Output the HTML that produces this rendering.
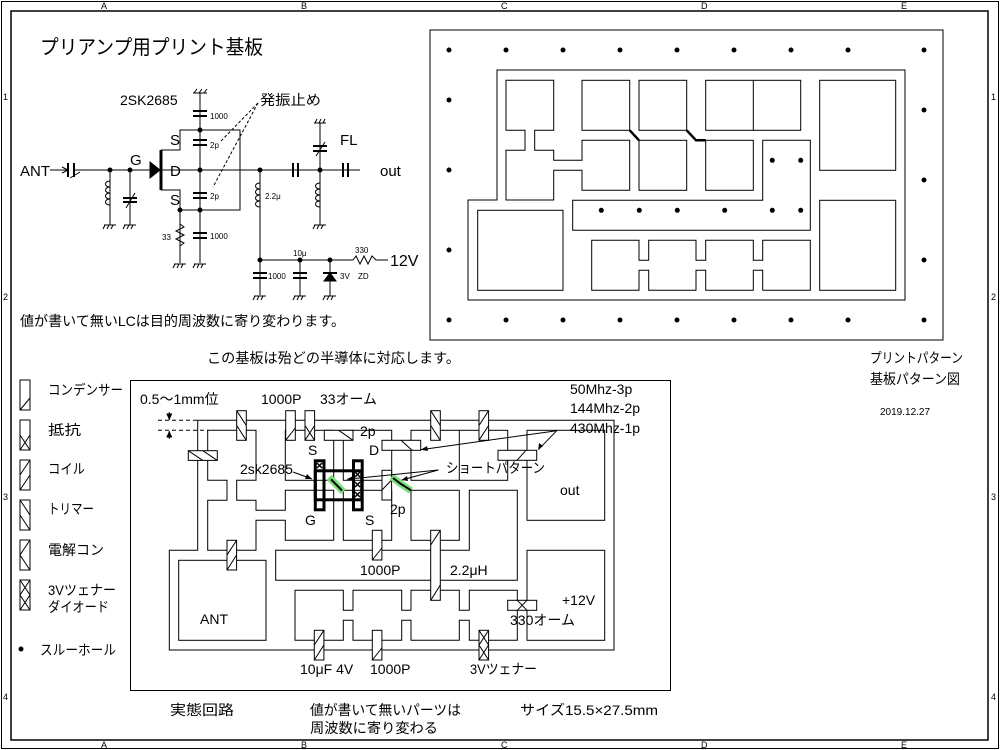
<!DOCTYPE html>
<html><head><meta charset="utf-8"><style>
html,body{margin:0;padding:0;background:#fff;}
svg{display:block;}
text{font-family:"Liberation Sans","Noto Sans CJK JP",sans-serif;fill:#000;}
</style></head><body>
<svg width="1000" height="750" viewBox="0 0 1000 750" xmlns="http://www.w3.org/2000/svg">
<g fill="none" stroke="#000" stroke-width="1">
<rect x="1.5" y="1.5" width="997" height="747"/>
<rect x="11" y="11" width="977" height="729" stroke-width="1.5"/>
</g>
<g font-size="9">
<text x="101" y="9">A</text><text x="301" y="9">B</text><text x="501" y="9">C</text><text x="701" y="9">D</text><text x="901" y="9">E</text>
<text x="101" y="748">A</text><text x="301" y="748">B</text><text x="501" y="748">C</text><text x="701" y="748">D</text><text x="901" y="748">E</text>
<text x="3" y="100">1</text><text x="3" y="300">2</text><text x="3" y="500">3</text><text x="3" y="700">4</text>
<text x="991" y="100">1</text><text x="991" y="300">2</text><text x="991" y="500">3</text><text x="991" y="700">4</text>
</g>

<text x="40" y="54" font-size="20" textLength="223" lengthAdjust="spacingAndGlyphs">プリアンプ用プリント基板</text>

<!-- Schematic -->
<g fill="none" stroke="#000" stroke-width="1">
<line x1="50" y1="170" x2="68" y2="170"/>
<polyline points="62,167 68,170 62,173"/>
<line x1="68" y1="163" x2="68" y2="177" stroke-width="2"/>
<line x1="74" y1="163" x2="74" y2="177" stroke-width="2"/>
<line x1="74" y1="170" x2="150" y2="170"/>
<line x1="70" y1="178" x2="80" y2="172"/>
<polygon points="150,162 160,170 150,178" fill="#000"/>
<line x1="161" y1="150" x2="161" y2="190" stroke-width="3"/>
<line x1="161" y1="170" x2="360" y2="170"/>
<polyline points="161,150 180,150 180,130 240,130 240,210 180,210 180,190 161,190"/>
<line x1="200" y1="93" x2="200" y2="263"/>
<line x1="193" y1="93" x2="207" y2="93"/>
<path d="M194,93 l3,-4 M199,93 l3,-4 M204,93 l3,-4"/>
<g stroke-width="2"><line x1="193" y1="111" x2="207" y2="111"/><line x1="193" y1="116" x2="207" y2="116"/>
<line x1="193" y1="140" x2="207" y2="140"/><line x1="193" y1="145" x2="207" y2="145"/>
<line x1="193" y1="193" x2="207" y2="193"/><line x1="193" y1="198" x2="207" y2="198"/>
<line x1="193" y1="233" x2="207" y2="233"/><line x1="193" y1="238" x2="207" y2="238"/></g>
<line x1="180" y1="210" x2="180" y2="263"/>
<polyline points="180,224 184,227 176,231 184,235 176,239 184,243 180,246" fill="none"/>
<line x1="174" y1="264" x2="186" y2="264"/><path d="M175,264 l-2,4 M179,264 l-2,4 M183,264 l-2,4"/>
<line x1="194" y1="264" x2="206" y2="264"/><path d="M195,264 l-2,4 M199,264 l-2,4 M203,264 l-2,4"/>
<line x1="110" y1="170" x2="110" y2="225"/>
<path d="M110,181 c-6,0 -6,6 0,6 c-6,0 -6,6 0,6 c-6,0 -6,6 0,6 c-6,0 -6,6 0,6"/>
<line x1="104" y1="225" x2="116" y2="225"/><path d="M105,225 l-2,4 M109,225 l-2,4 M113,225 l-2,4"/>
<line x1="130" y1="170" x2="130" y2="225"/>
<g stroke-width="2"><line x1="123" y1="198" x2="137" y2="198"/><line x1="123" y1="202" x2="137" y2="202"/></g>
<line x1="126" y1="208" x2="135" y2="193"/>
<line x1="124" y1="225" x2="136" y2="225"/><path d="M125,225 l-2,4 M129,225 l-2,4 M133,225 l-2,4"/>
<line x1="260" y1="170" x2="260" y2="295"/>
<path d="M260,183 c-6,0 -6,6 0,6 c-6,0 -6,6 0,6 c-6,0 -6,6 0,6 c-6,0 -6,6 0,6"/>
<g stroke-width="2"><line x1="253" y1="273" x2="267" y2="273"/><line x1="253" y1="278" x2="267" y2="278"/></g>
<line x1="254" y1="296" x2="266" y2="296"/><path d="M255,296 l-2,4 M259,296 l-2,4 M263,296 l-2,4"/>
<line x1="260" y1="260" x2="353" y2="260"/>
<polyline points="353,260 356,256 360,264 364,256 368,264 372,256 376,260 388,260"/>
<line x1="300" y1="260" x2="300" y2="296"/>
<g stroke-width="2"><line x1="293" y1="273" x2="307" y2="273"/><line x1="293" y1="278" x2="307" y2="278"/></g>
<line x1="294" y1="296" x2="306" y2="296"/><path d="M295,296 l-2,4 M299,296 l-2,4 M303,296 l-2,4"/>
<line x1="330" y1="260" x2="330" y2="296"/>
<polygon points="324,281 336,281 330,273" fill="#000"/><line x1="323" y1="273" x2="337" y2="273" stroke-width="2"/>
<line x1="324" y1="296" x2="336" y2="296"/><path d="M325,296 l-2,4 M329,296 l-2,4 M333,296 l-2,4"/>
<line x1="293" y1="163" x2="293" y2="177" stroke-width="2"/>
<line x1="298" y1="163" x2="298" y2="177" stroke-width="2"/>
<line x1="343" y1="163" x2="343" y2="177" stroke-width="2"/>
<line x1="348" y1="163" x2="348" y2="177" stroke-width="2"/>
<line x1="320" y1="123" x2="320" y2="225"/>
<line x1="314" y1="123" x2="326" y2="123"/><path d="M315,123 l2,-4 M319,123 l2,-4 M323,123 l2,-4"/>
<g stroke-width="2"><line x1="313" y1="146" x2="327" y2="146"/><line x1="313" y1="151" x2="327" y2="151"/></g>
<line x1="316" y1="156" x2="325" y2="142"/>
<path d="M320,183 c-6,0 -6,6 0,6 c-6,0 -6,6 0,6 c-6,0 -6,6 0,6 c-6,0 -6,6 0,6"/>
<line x1="314" y1="225" x2="326" y2="225"/><path d="M315,225 l-2,4 M319,225 l-2,4 M323,225 l-2,4"/>
<line x1="258" y1="103" x2="220" y2="142" stroke-dasharray="3,2"/>
<line x1="258" y1="103" x2="213" y2="187" stroke-dasharray="3,2"/>
</g>
<g fill="#000">
<circle cx="110" cy="170" r="2.5"/><circle cx="130" cy="170" r="2.5"/><circle cx="200" cy="130" r="2.5"/><circle cx="200" cy="170" r="2.5"/>
<circle cx="200" cy="210" r="2.5"/><circle cx="180" cy="210" r="2.5"/><circle cx="260" cy="170" r="2.5"/><circle cx="320" cy="170" r="2.5"/>
<circle cx="260" cy="260" r="2.5"/><circle cx="300" cy="260" r="2.5"/><circle cx="330" cy="260" r="2.5"/>
</g>
<g font-size="15">
<text x="20" y="176">ANT</text><text x="130" y="165">G</text><text x="170" y="176">D</text>
<text x="170" y="145">S</text><text x="170" y="205">S</text><text x="380" y="176">out</text>
<text x="340" y="145">FL</text><text x="120" y="105" font-size="14">2SK2685</text>
<text x="260" y="105" font-size="14" textLength="61" lengthAdjust="spacingAndGlyphs">発振止め</text><text x="390" y="266" font-size="16">12V</text>
</g>
<g font-size="8">
<text x="210" y="119">1000</text><text x="210" y="148">2p</text><text x="210" y="199">2p</text><text x="210" y="239">1000</text>
<text x="162" y="240">33</text><text x="265" y="199">2.2μ</text><text x="268" y="279">1000</text><text x="293" y="256">10μ</text>
<text x="340" y="279">3V</text><text x="358" y="279">ZD</text><text x="355" y="253">330</text>
</g>
<text x="20" y="326" font-size="14" textLength="325" lengthAdjust="spacingAndGlyphs">値が書いて無いLCは目的周波数に寄り変わります。</text>
<text x="207" y="363" font-size="14" textLength="253" lengthAdjust="spacingAndGlyphs">この基板は殆どの半導体に対応します。</text>

<!-- Right pattern -->
<g fill="none" stroke="#000" stroke-width="1">
<rect x="430" y="30" width="513" height="310"/>
<polygon points="497,70 905,70 905,300 468,300 468,200 497,200"/>
<polygon points="506,80.3 553.7,80.3 553.7,130.3 534.7,130.3 534.7,150.3 553.7,150.3 553.7,160.3 582,160.3 582,140.3 629.7,140.3 629.7,190.3 582,190.3 582,170.3 553.7,170.3 553.7,200 506,200 506,150.3 525,150.3 525,130.3 506,130.3"/>
<rect x="582" y="80.3" width="47.7" height="50"/>
<rect x="639" y="80.3" width="47.7" height="50"/>
<rect x="705.7" y="80.3" width="95" height="50"/><line x1="753.3" y1="80.3" x2="753.3" y2="130.3"/>
<rect x="819.7" y="80.3" width="76" height="90"/>
<rect x="639" y="140.3" width="47.7" height="50"/>
<rect x="705.7" y="140.3" width="47.6" height="50"/>
<polygon points="762.7,140.3 810.3,140.3 810.3,230.3 572.7,230.3 572.7,200.3 762.7,200.3"/>
<rect x="477.7" y="210.3" width="85.3" height="80"/>
<rect x="819.7" y="200.3" width="76" height="90"/>
<polygon points="591.7,240.3 639,240.3 639,260.3 648.7,260.3 648.7,240.3 696,240.3 696,260.3 705.7,260.3 705.7,240.3 753.3,240.3 753.3,260.3 762.7,260.3 762.7,240.3 810.3,240.3 810.3,290.3 762.7,290.3 762.7,270.3 753.3,270.3 753.3,290.3 705.7,290.3 705.7,270.3 696,270.3 696,290.3 648.7,290.3 648.7,270.3 639,270.3 639,290.3 591.7,290.3"/>
<polyline points="629.7,130.3 639,140.3" stroke-width="2.5"/>
<polyline points="686.7,130.3 696,140.3 705.7,140.3" stroke-width="2.5"/>
</g>
<g fill="#000">
<circle cx="449" cy="50" r="2.5"/><circle cx="506" cy="50" r="2.5"/><circle cx="563" cy="50" r="2.5"/><circle cx="620" cy="50" r="2.5"/><circle cx="677" cy="50" r="2.5"/><circle cx="734" cy="50" r="2.5"/><circle cx="791" cy="50" r="2.5"/><circle cx="848" cy="50" r="2.5"/><circle cx="924" cy="50" r="2.5"/>
<circle cx="449" cy="320" r="2.5"/><circle cx="506" cy="320" r="2.5"/><circle cx="563" cy="320" r="2.5"/><circle cx="620" cy="320" r="2.5"/><circle cx="677" cy="320" r="2.5"/><circle cx="734" cy="320" r="2.5"/><circle cx="791" cy="320" r="2.5"/><circle cx="848" cy="320" r="2.5"/><circle cx="924" cy="320" r="2.5"/>
<circle cx="449" cy="100" r="2.5"/><circle cx="449" cy="170" r="2.5"/><circle cx="449" cy="250" r="2.5"/>
<circle cx="924" cy="110" r="2.5"/><circle cx="924" cy="180" r="2.5"/><circle cx="924" cy="260" r="2.5"/>
<circle cx="772.3" cy="160.3" r="2.5"/><circle cx="800.7" cy="160.3" r="2.5"/>
<circle cx="601.3" cy="210.3" r="2.5"/><circle cx="639.3" cy="210.3" r="2.5"/><circle cx="677.3" cy="210.3" r="2.5"/><circle cx="724.7" cy="210.3" r="2.5"/><circle cx="772.3" cy="210.3" r="2.5"/><circle cx="800.7" cy="210.3" r="2.5"/>
</g>
<text x="870" y="363" font-size="14" textLength="93" lengthAdjust="spacingAndGlyphs">プリントパターン</text>
<text x="870" y="384" font-size="14" textLength="90" lengthAdjust="spacingAndGlyphs">基板パターン図</text>
<text x="880" y="415" font-size="10">2019.12.27</text>

<!-- Legend -->
<g fill="none" stroke="#000" stroke-width="1">
<rect x="20" y="380" width="10" height="30"/><line x1="20" y1="410" x2="30" y2="398"/>
<rect x="20" y="420" width="10" height="30"/><path d="M20,435 L30,450 M30,435 L20,450"/>
<rect x="20" y="460" width="10" height="30"/><path d="M20,475 L30,460 M20,490 L30,475"/>
<rect x="20" y="500" width="10" height="30"/><path d="M20,500 L30,515 M20,515 L30,530"/>
<rect x="20" y="540" width="10" height="30"/><path d="M30,540 L20,555 L30,570"/>
<rect x="20" y="580" width="10" height="30"/><path d="M20,580 L30,595 M30,580 L20,595 M20,595 L30,610 M30,595 L20,610"/>
</g>
<g font-size="14">
<text x="48" y="395" textLength="75" lengthAdjust="spacingAndGlyphs">コンデンサー</text>
<text x="48" y="435" textLength="33" lengthAdjust="spacingAndGlyphs">抵抗</text>
<text x="48" y="474" textLength="37" lengthAdjust="spacingAndGlyphs">コイル</text>
<text x="48" y="514" textLength="46" lengthAdjust="spacingAndGlyphs">トリマー</text>
<text x="48" y="555" textLength="56" lengthAdjust="spacingAndGlyphs">電解コン</text>
<text x="48" y="595" textLength="68" lengthAdjust="spacingAndGlyphs">3Vツェナー</text>
<text x="48" y="612" textLength="61" lengthAdjust="spacingAndGlyphs">ダイオード</text>
<text x="40" y="655" textLength="76" lengthAdjust="spacingAndGlyphs">スルーホール</text>
</g>
<circle cx="21" cy="649" r="2.5" fill="#000"/>

<!-- Bottom board -->
<g fill="none" stroke="#000" stroke-width="1">
<rect x="130.5" y="380.5" width="540" height="310"/>
<polygon points="197.7,420.3 614,420.3 614,650 169.3,650 169.3,550.3 197.7,550.3"/>
<polygon points="207.7,430.3 256,430.3 256,480.3 236.7,480.3 236.7,500.3 256,500.3 256,510.3 285.3,510.3 285.3,490.3 333.7,490.3 333.7,540.3 285.3,540.3 285.3,520.3 256,520.3 256,550.3 207.7,550.3 207.7,500.3 227,500.3 227,480.3 207.7,480.3"/>
<rect x="285.3" y="430.3" width="48.4" height="50"/>
<rect x="343.3" y="430.3" width="48.4" height="50"/>
<rect x="343.3" y="490.3" width="48.4" height="50"/>
<rect x="411" y="430.3" width="96.7" height="50"/><line x1="459.3" y1="430.3" x2="459.3" y2="480.3"/>
<rect x="527" y="430.3" width="77.7" height="90"/>
<rect x="411" y="490.3" width="48.3" height="50"/>
<polygon points="469.3,490.3 517.3,490.3 517.3,580.3 275.7,580.3 275.7,550.3 469.3,550.3"/>
<rect x="178.7" y="560.3" width="87.3" height="80"/>
<rect x="527" y="550.3" width="77.7" height="90"/>
<polygon points="295,590.3 343.3,590.3 343.3,610.3 353,610.3 353,590.3 401.7,590.3 401.7,610.3 411,610.3 411,590.3 459.3,590.3 459.3,610.3 469.3,610.3 469.3,590.3 517.3,590.3 517.3,640.3 469.3,640.3 469.3,620.3 459.3,620.3 459.3,640.3 411,640.3 411,620.3 401.7,620.3 401.7,640.3 353,640.3 353,620.3 343.3,620.3 343.3,640.3 295,640.3"/>
<line x1="158" y1="420.3" x2="197.7" y2="420.3" stroke-dasharray="4,3"/>
<line x1="158" y1="430.3" x2="207.7" y2="430.3" stroke-dasharray="4,3"/>
<line x1="169.3" y1="412" x2="169.3" y2="420"/><polygon points="167,414 171.6,414 169.3,419" fill="#000"/>
<line x1="169.3" y1="431" x2="169.3" y2="439"/><polygon points="167,437 171.6,437 169.3,432" fill="#000"/>
<g fill="#fff">
<rect x="236.7" y="410.7" width="9.6" height="29.6"/>
<rect x="188.3" y="450.7" width="29" height="9.7"/>
<rect x="285.7" y="410.7" width="9.6" height="29.6"/>
<rect x="305" y="410.7" width="9.6" height="29.6"/>
<rect x="324.3" y="430.3" width="28.7" height="10"/>
<rect x="382" y="440.3" width="38.7" height="10"/>
<rect x="430.7" y="410.7" width="9.6" height="29.6"/>
<rect x="479" y="410.7" width="9.6" height="29.6"/>
<rect x="498" y="450.3" width="38.7" height="10"/>
<rect x="382" y="470.3" width="9.6" height="29.7"/>
<rect x="227" y="540.3" width="9.6" height="29.7"/>
<rect x="372.3" y="530.3" width="9.6" height="29.7"/>
<rect x="430.7" y="530.3" width="9.6" height="70"/>
<rect x="507.7" y="600.3" width="29" height="10"/>
<rect x="314.3" y="630.3" width="9.6" height="29.7"/>
<rect x="372.3" y="630.3" width="9.6" height="29.7"/>
<rect x="479" y="630.3" width="9.6" height="29.7"/>
</g>
<path d="M236.7,410.7 L246.3,425.5 M236.7,425.5 L246.3,440.3"/>
<path d="M188.3,450.7 L202.8,460.4 M202.8,450.7 L217.3,460.4"/>
<path d="M285.7,440.3 L295.3,428"/>
<path d="M305,425.5 L314.6,440.3 M314.6,425.5 L305,440.3"/>
<path d="M338.7,430.3 L353,440.3"/>
<path d="M401,440.3 L412,450.3"/>
<path d="M430.7,410.7 L440.3,425.5 M430.7,425.5 L440.3,440.3"/>
<path d="M479,425.5 L488.6,410.7 M479,440.3 L488.6,425.5"/>
<path d="M517,460.3 L526,450.3"/>
<path d="M382,490 L391.6,480"/>
<path d="M227,555 L236.6,540.3 M227,570 L236.6,555"/>
<path d="M372.3,560 L381.9,548"/>
<path d="M430.7,600.3 L440.3,585 M430.7,545 L440.3,530.3"/>
<path d="M517.3,600.3 L527,610.3 M527,600.3 L517.3,610.3"/>
<path d="M314.3,645 L323.9,630.3 M314.3,660 L323.9,645"/>
<path d="M372.3,660 L381.9,648"/>
<path d="M479,630.3 L488.6,645 M488.6,630.3 L479,645 M479,645 L488.6,660 M488.6,645 L479,660"/>
<path d="M329,477.3 L343.3,491.7" stroke="#7be07b" stroke-width="7"/>
<path d="M391.7,476.7 L401,484 L411,490.7" stroke="#7be07b" stroke-width="7"/>
<path d="M331,479.3 L342,490.5" stroke="#000" stroke-width="2"/>
<path d="M393,478 L401,484 L411,490.3" stroke="#000" stroke-width="2"/>
<g stroke-width="3">
<rect x="315.3" y="470.8" width="46.4" height="29"/>
<rect x="315.3" y="460.8" width="8.7" height="49"/>
<rect x="353.5" y="460.8" width="8.7" height="49"/>
</g>
<path d="M317,463 L322,468 M322,463 L317,468 M355,472 L360,477 M360,472 L355,477 M355,482 L360,487 M360,482 L355,487 M355,492 L360,497 M360,492 L355,497" stroke-width="1.5"/>
<line x1="293" y1="472" x2="312" y2="479"/>
<line x1="438.3" y1="470" x2="347" y2="479.3"/>
<line x1="438.3" y1="470" x2="401.7" y2="480"/>
<line x1="556.7" y1="430.7" x2="420.7" y2="449.7"/>
<line x1="556.7" y1="430.7" x2="538.3" y2="449.7"/>
</g>
<g fill="#000">
<polygon points="312,479 305,479 307,474"/>
<polygon points="347,479.3 353,476 353,481"/>
<polygon points="401.7,480 407,476 408,481"/>
<polygon points="420.7,449.7 427,446 428,451"/>
<polygon points="538.3,449.7 539,443 543,446"/>
</g>
<g font-size="14">
<text x="140" y="404">0.5～1mm位</text><text x="261" y="404">1000P</text>
<text x="320" y="404" textLength="57" lengthAdjust="spacingAndGlyphs">33オーム</text>
<text x="570" y="394">50Mhz-3p</text><text x="570" y="413">144Mhz-2p</text><text x="570" y="433">430Mhz-1p</text>
<text x="360" y="436">2p</text><text x="308" y="455">S</text><text x="369" y="455">D</text>
<text x="240" y="474">2sk2685</text>
<text x="446" y="473" textLength="99" lengthAdjust="spacingAndGlyphs">ショートパターン</text>
<text x="560" y="495">out</text>
<text x="305" y="525">G</text><text x="365" y="525">S</text><text x="390" y="514">2p</text>
<text x="360" y="575">1000P</text><text x="450" y="575">2.2μH</text><text x="562" y="605">+12V</text>
<text x="510" y="625" textLength="65" lengthAdjust="spacingAndGlyphs">330オーム</text><text x="200" y="624">ANT</text>
<text x="300" y="674">10μF 4V</text><text x="370" y="674">1000P</text>
<text x="470" y="674" textLength="67" lengthAdjust="spacingAndGlyphs">3Vツェナー</text>
<text x="170" y="715" textLength="64" lengthAdjust="spacingAndGlyphs">実態回路</text>
<text x="310" y="715" textLength="151" lengthAdjust="spacingAndGlyphs">値が書いて無いパーツは</text>
<text x="310" y="733" textLength="128" lengthAdjust="spacingAndGlyphs">周波数に寄り変わる</text>
<text x="520" y="715" textLength="138" lengthAdjust="spacingAndGlyphs">サイズ15.5×27.5mm</text>
</g>
</svg>
</body></html>
